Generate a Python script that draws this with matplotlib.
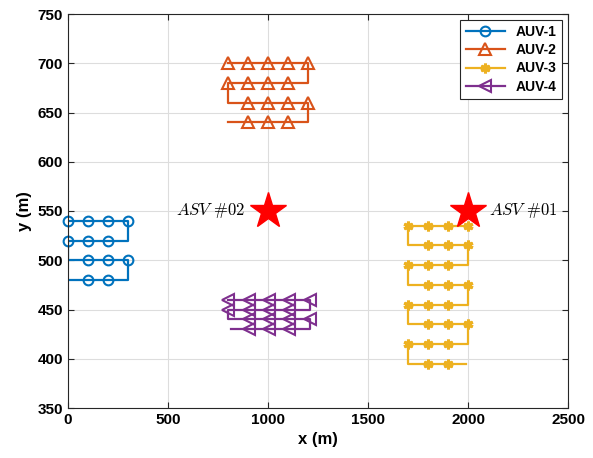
import numpy as np
import matplotlib
matplotlib.use("Agg")
import matplotlib.pyplot as plt

plt.rcParams['font.family'] = ['Liberation Sans', 'DejaVu Sans']
plt.rcParams['mathtext.fontset'] = 'cm'

# --- trajectories (path vertices) and sampled marker points ---
auv1_path_x = [0, 300, 300, 0, 0, 300, 300, 0]
auv1_path_y = [540, 540, 520, 520, 500, 500, 480, 480]
auv1_mk_x = [0, 100, 200, 300, 0, 100, 200, 100, 200, 300, 100, 200]
auv1_mk_y = [540, 540, 540, 540, 520, 520, 520, 500, 500, 500, 480, 480]

auv2_path_x = [800, 1200, 1200, 800, 800, 1200, 1200, 800]
auv2_path_y = [700, 700, 680, 680, 660, 660, 640, 640]
auv2_mk_x = [800, 900, 1000, 1100, 1200, 800, 900, 1000, 1100,
             900, 1000, 1100, 1200, 900, 1000, 1100]
auv2_mk_y = [700, 700, 700, 700, 700, 680, 680, 680, 680,
             660, 660, 660, 660, 640, 640, 640]

auv3_path_x = [2000, 1700, 1700, 2000, 2000, 1700, 1700, 2000, 2000,
               1700, 1700, 2000, 2000, 1700, 1700, 1990]
auv3_path_y = [535, 535, 515, 515, 495, 495, 475, 475, 455,
               455, 435, 435, 415, 415, 395, 395]
auv3_mk_x = [1700, 1800, 1900, 2000, 1800, 1900, 2000, 1700, 1800, 1900,
             1800, 1900, 2000, 1700, 1800, 1900, 1800, 1900, 2000,
             1700, 1800, 1900, 1800, 1900]
auv3_mk_y = [535, 535, 535, 535, 515, 515, 515, 495, 495, 495,
             475, 475, 475, 455, 455, 455, 435, 435, 435,
             415, 415, 415, 395, 395]

auv4_path_x = [800, 1210, 1210, 800, 800, 1210, 1210, 815]
auv4_path_y = [460, 460, 450, 450, 440, 440, 430, 430]
auv4_mk_x = [800, 905, 1005, 1105, 1210, 800, 905, 1005, 1105,
             905, 1005, 1105, 1210, 905, 1005, 1105]
auv4_mk_y = [460, 460, 460, 460, 460, 450, 450, 450, 450,
             440, 440, 440, 440, 430, 430, 430]

asv_x = [2000, 1000]
asv_y = [550, 550]
asv_labels = [r'$ASV\ \#01$', r'$ASV\ \#02$']

colors = ['#0072BD', '#D95319', '#EDB120', '#7E2F8E']
asterisk = (6, 2, 0)

fig = plt.figure(figsize=(5.93, 4.58), dpi=100)
ax = fig.add_axes([68 / 593, 1 - 408 / 458, 500 / 593, 394 / 458])

series = [
    ('AUV-1', auv1_path_x, auv1_path_y, auv1_mk_x, auv1_mk_y, 'o', 7, 1.5),
    ('AUV-2', auv2_path_x, auv2_path_y, auv2_mk_x, auv2_mk_y, '^', 8, 1.5),
    ('AUV-3', auv3_path_x, auv3_path_y, auv3_mk_x, auv3_mk_y, asterisk, 7, 2.2),
    ('AUV-4', auv4_path_x, auv4_path_y, auv4_mk_x, auv4_mk_y, '<', 8, 1.5),
]
handles = []
for (name, px, py, mx, my, mk, ms, mew), c in zip(series, colors):
    ax.plot(px, py, '-', color=c, lw=1.6)
    ax.plot(mx, my, marker=mk, color=c, ms=ms, mfc='none', mew=mew,
            ls='none', clip_on=False)
    h, = ax.plot([], [], '-', marker=mk, color=c, lw=1.6, ms=ms,
                 mfc='none', mew=mew)
    handles.append((h, name))

ax.plot(asv_x, asv_y, '*', color='red', ms=27, mec='red', ls='none')
ax.text(2105, 550, asv_labels[0], fontsize=12, ha='left', va='center')
ax.text(885, 550, asv_labels[1], fontsize=12, ha='right', va='center')

ax.set_xlim(0, 2500)
ax.set_ylim(350, 750)
ax.set_xticks(np.arange(0, 2501, 500))
ax.set_yticks(np.arange(350, 751, 50))
ax.grid(True, color='#dddddd', lw=0.8)
ax.set_axisbelow(True)
for sp in ax.spines.values():
    sp.set_color('#262626')
ax.tick_params(direction='in', top=True, right=True, labelsize=11, length=4,
               color='#262626')
for lab in ax.get_xticklabels() + ax.get_yticklabels():
    lab.set_fontweight('bold')
ax.set_xlabel('x (m)', fontsize=12, fontweight='bold')
ax.set_ylabel('y (m)', fontsize=12, fontweight='bold')

leg = ax.legend([h for h, _ in handles], [n for _, n in handles],
                loc='upper right', fancybox=False, edgecolor='#262626',
                prop={'weight': 'bold', 'size': 10}, handlelength=2.8,
                borderaxespad=0.4, labelspacing=0.3, framealpha=1)
leg.get_frame().set_linewidth(0.8)

fig.savefig('out.png', dpi=100)
